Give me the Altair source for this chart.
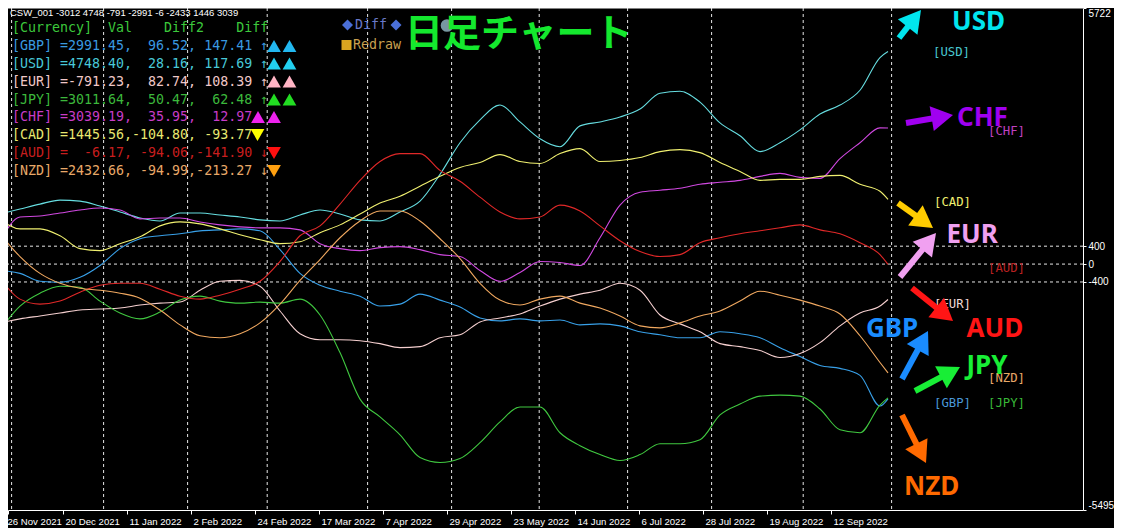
import math
import altair as alt
import pandas as pd

# ---------------- data ----------------
currencies = ["GBP", "USD", "EUR", "JPY", "CHF", "CAD", "AUD", "NZD"]
line_colors = ["#38A0E8", "#66DDE0", "#F5CFCF", "#40C840", "#D048E0", "#F0F070", "#E02828", "#F0A860"]

bars = [0, 5, 10, 15, 20, 25, 30, 35, 40, 45, 50, 55, 60, 65, 70, 75, 80, 85, 90, 95,
        100, 105, 110, 115, 120, 125, 130, 135, 140, 145, 150, 155, 160, 165, 170, 175,
        180, 185, 190, 195, 200, 205, 210, 215, 220, 222]

gbp = [-142, -208, -385, -407, -296, -31, 345, 566, 633, 677, 743, 765, 787, 743, 323, -208,
       -473, -606, -717, -938, -894, -672, -805, -960, -1203, -1270, -1225, -1270, -1248, -1358,
       -1336, -1380, -1513, -1579, -1646, -1646, -1513, -1557, -1646, -1867, -2066, -2265, -2331,
       -2486, -3172, -3012]
usd = [1119, 1230, 1340, 1429, 1407, 1296, 1164, 1031, 964, 1141, 1141, 1097, 1053, 987, 964,
       1097, 1208, 1119, 987, 964, 1164, 1407, 2004, 2712, 3221, 3553, 3176, 2800, 2623, 3088,
       3176, 3287, 3464, 3818, 3862, 3619, 3154, 2867, 2513, 2712, 2999, 3353, 3553, 3884, 4614, 4748]
eur = [-1314, -1225, -1159, -1093, -1026, -1004, -982, -916, -872, -849, -584, -385, -363, -495,
       -1048, -1557, -1690, -1690, -1712, -1778, -1867, -1845, -1646, -1579, -1292, -1203, -1115,
       -938, -783, -672, -584, -429, -584, -1137, -1336, -1513, -1778, -1845, -1933, -2088, -2000,
       -1756, -1380, -1093, -938, -791]
jpy = [-1469, -938, -650, -495, -518, -827, -1093, -1225, -1071, -805, -717, -827, -872, -849,
       -872, -783, -1137, -1978, -3017, -3415, -3814, -4322, -4433, -4344, -3990, -3526, -3194,
       -3194, -3769, -4057, -4256, -4389, -4256, -4013, -4013, -3924, -3371, -3128, -2951, -2929,
       -2951, -3238, -3703, -3769, -3150, -2991]
chf = [500, 1053, 1075, 1141, 1208, 1252, 1208, 1009, 1031, 1031, 942, 876, 832, 810, 810, 765,
       456, 345, 301, 367, 389, 323, 212, 168, -142, -385, -186, 58, 35, -31, 588, 1318, 1606,
       1650, 1694, 1783, 1827, 1871, 1960, 2026, 1938, 1916, 2358, 2712, 3044, 3039]
cad = [1009, 787, 787, 633, 345, 301, 456, 611, 854, 942, 898, 787, 655, 544, 456, 500, 699, 876,
       1119, 1363, 1517, 1739, 1960, 2159, 2270, 2446, 2292, 2247, 2469, 2579, 2292, 2314, 2380,
       2513, 2557, 2491, 2270, 2070, 1871, 1893, 1893, 1960, 1982, 1783, 1628, 1446]
aud = [-319, -783, -894, -827, -628, -473, -429, -429, -562, -717, -783, -695, -562, -385, 58, 633,
       854, 1340, 1871, 2292, 2469, 2469, 2093, 1849, 1495, 1164, 1009, 1053, 1318, 1186, 854, 522,
       279, 168, 212, 478, 588, 677, 743, 810, 876, 765, 677, 478, 212, -6]
nzd = [677, 168, -208, -429, -540, -584, -650, -761, -1026, -1358, -1602, -1646, -1557, -1314,
       -894, -363, 102, 588, 964, 1186, 1186, 964, 566, 124, -429, -805, -916, -783, -717, -872,
       -982, -1159, -1380, -1425, -1314, -1159, -1048, -827, -606, -695, -805, -938, -1115, -1602,
       -2199, -2433]
series = [gbp, usd, eur, jpy, chf, cad, aud, nzd]

month_separators = [2.9, 25.9, 46.9, 66.8, 91.9, 112.9, 134.8, 156.9, 177.9, 200.8, 222.9]
levels = [400, 0, -400]
y_ticks = [5722, 400, 0, -400, -5495]
date_ticks = [2, 15.75, 31.75, 47.75, 63.75, 79.75, 95.75, 111.75, 127.75, 143.75, 159.75,
              175.75, 191.75, 207.75]
date_labels = ["26 Nov 2021", "20 Dec 2021", "11 Jan 2022", "2 Feb 2022", "24 Feb 2022",
               "17 Mar 2022", "7 Apr 2022", "29 Apr 2022", "23 May 2022", "14 Jun 2022",
               "6 Jul 2022", "28 Jul 2022", "19 Aug 2022", "12 Sep 2022"]

header_text = "CSW_001 -3012 4748 -791 -2991 -6 -2433 1446 3039"
legend_lines = [
    "[Currency]  Val    Diff2    Diff",
    "[GBP] =2991.45,  96.52, 147.41 ↑",
    "[USD] =4748.40,  28.16, 117.69 ↑",
    "[EUR] =-791.23,  82.74, 108.39 ↑",
    "[JPY] =3011.64,  50.47,  62.48 ↑",
    "[CHF] =3039.19,  35.95,  12.97",
    "[CAD] =1445.56,-104.80, -93.77",
    "[AUD] =  -6.17, -94.06,-141.90 ↓",
    "[NZD] =2432.66, -94.99,-213.27 ↓",
]
title_text = "日足チャート"

# ---------------- layout ----------------
W, H = 1075, 502
M = 8  # page margin offset (page coords -> plot coords)

xs = alt.Scale(domain=[2, 270.75], nice=False, zero=False)
ys = alt.Scale(domain=[-5495, 5722], nice=False, zero=False)

label_expr = "[" + ",".join("'%s'" % s for s in date_labels) + "][indexof([" + \
    ",".join(str(t) for t in date_ticks) + "], datum.value)]"

xaxis = alt.Axis(values=date_ticks, labelExpr=label_expr, labelAlign="left",
                 labelOffset={"condition": {"test": "datum.value == 2", "value": -1}, "value": 2},
                 labelColor="white", labelFont="Liberation Sans", labelFontSize=9.6,
                 labelPadding=2, labelOverlap=False, labelFlush=False,
                 tickColor="white", tickSize=4, domainColor="white", grid=False, title=None)
yaxis = alt.Axis(orient="right", values=y_ticks, labelExpr="'' + datum.value",
                 labelColor="white", labelFont="Liberation Sans", labelFontSize=10,
                 labelPadding=2, labelOverlap=False, labelFlush=True,
                 tickColor="white", tickSize=3, domainColor="white", grid=False, title=None)


def X(field):
    return alt.X(field + ":Q", scale=xs, axis=xaxis)


def Y(field):
    return alt.Y(field + ":Q", scale=ys, axis=yaxis)


dash = [3, 3]
layers = []
layers.append(alt.Chart(pd.DataFrame({"bar": month_separators}))
              .mark_rule(color="white", strokeDash=dash, strokeWidth=1, opacity=0.9)
              .encode(x=X("bar")))
layers.append(alt.Chart(pd.DataFrame({"v": levels}))
              .mark_rule(color="white", strokeDash=dash, strokeWidth=1, opacity=0.9)
              .encode(y=Y("v")))
layers.append(alt.Chart(pd.DataFrame({"v": y_ticks[:1]}))
              .mark_rule(color="white", strokeWidth=1)
              .encode(y=Y("v")))

rows = []
for c, vals in zip(currencies, series):
    for b, v in zip(bars, vals):
        rows.append({"bar": b, "cur": c, "v": v})
lines_df = pd.DataFrame(rows)
layers.append(alt.Chart(lines_df).mark_line(strokeWidth=1.1, clip=True, interpolate="monotone")
              .encode(x=X("bar"), y=Y("v"),
                      color=alt.Color("cur:N", scale=alt.Scale(domain=currencies, range=line_colors),
                                      legend=None),
                      order=alt.Order("bar:Q")))

dummy = pd.DataFrame({"a": [0]})


def text(t, px, py, color, size, font="DejaVu Sans Mono", weight="normal", align="left"):
    return (alt.Chart(dummy)
            .mark_text(text=t.replace(" ", "\u00a0"), color=color, fontSize=size, font=font,
                       fontWeight=weight, align=align, baseline="middle")
            .encode(x=alt.value(px - M), y=alt.value(py - M)))


def sym(shape, px, py, color, size, angle=0):
    return (alt.Chart(dummy)
            .mark_point(shape=shape, filled=True, color=color, size=size, opacity=1,
                        angle=angle, strokeWidth=0)
            .encode(x=alt.value(px - M), y=alt.value(py - M)))


def arrow(tail, tip, color, head=620, width=6):
    sx, sy = tail
    tx, ty = tip
    dx, dy = tx - sx, ty - sy
    ln = math.hypot(dx, dy)
    ux, uy = dx / ln, dy / ln
    hoff = 0.433 * math.sqrt(head)
    cx, cy = tx - ux * hoff, ty - uy * hoff
    ang = (math.degrees(math.atan2(dx, -dy)) + 360) % 360
    shaft = (alt.Chart(dummy)
             .mark_rule(color=color, strokeWidth=width, strokeCap="butt")
             .encode(x=alt.value(sx - M), y=alt.value(sy - M),
                     x2=alt.value(cx - M), y2=alt.value(cy - M)))
    return [shaft, sym("triangle-up", cx, cy, color, head, ang)]


# header + legend table
layers.append(text(header_text, 10, 13, "white", 9.5, font="Liberation Sans"))
legend_colors = ["#3CC83C", "#3A9AE0", "#48C8D8", "#F0C8C8", "#3CB83C", "#C83CC8",
                 "#E8E870", "#C81E1E", "#E8A868"]
legend_y = [28, 46, 63.5, 81.5, 99.5, 117, 135, 153, 171]
for t, c, yy in zip(legend_lines, legend_colors, legend_y):
    layers.append(text(t, 12, yy, c, 13.3))

tri = [
    (274, 46, "triangle-up", "#22B8F0"), (289.5, 46, "triangle-up", "#22B8F0"),
    (274, 63.5, "triangle-up", "#22D0F0"), (289.5, 63.5, "triangle-up", "#22D0F0"),
    (274, 81.5, "triangle-up", "#FFB4C4"), (289.5, 81.5, "triangle-up", "#FFB4C4"),
    (274, 99.5, "triangle-up", "#22DD22"), (289.5, 99.5, "triangle-up", "#22DD22"),
    (258, 117, "triangle-up", "#EE22EE"), (274, 117, "triangle-up", "#EE22EE"),
    (257.5, 135, "triangle-down", "#FFFF00"),
    (274, 153, "triangle-down", "#FF1010"),
    (274, 171, "triangle-down", "#FFA010"),
]
for px, py, shp, c in tri:
    layers.append(sym(shp, px, py, c, 190))

# buttons
layers.append(sym("diamond", 347.5, 25, "#4A6FD8", 121))
layers.append(text("Diff", 355, 25, "#6878C8", 13.3))
layers.append(sym("diamond", 396, 25, "#4A6FD8", 121))
layers.append(sym("circle", 447, 25.5, "#7897A0", 160))
layers.append(sym("square", 346.5, 45, "#DAA520", 100))
layers.append(text("Redraw", 353, 45, "#C8A050", 13.3))
layers.append(sym("square", 414.5, 43.5, "#DAA520", 36))

# title
layers.append(text(title_text, 405, 35, "#14E82E", 38, font="Noto Sans CJK JP", weight="bold"))

# small bracket labels
brackets = [("[USD]", 933, 52, "#48C8D0"), ("[CHF]", 988, 130.5, "#C040C0"),
            ("[CAD]", 934, 202, "#F0F070"), ("[AUD]", 988, 268, "#B82020"),
            ("[EUR]", 934, 304, "#F0D8D8"), ("[NZD]", 988, 378, "#E8A868"),
            ("[GBP]", 934, 403, "#4A98D8"), ("[JPY]", 988, 403, "#38B838")]
for t, px, py, c in brackets:
    layers.append(text(t, px, py, c, 12.3))

# arrows
arrows = [((899, 38), (921, 10), "#00E5EE"),
          ((906, 123), (953, 115), "#A000F0"),
          ((898, 203), (933, 228), "#FFCC00"),
          ((900, 277), (936, 233), "#F0A0F0"),
          ((912, 288), (953, 321), "#FF1515"),
          ((902, 379), (928, 331), "#1A8CFF"),
          ((915, 391), (960, 367), "#18EE36"),
          ((902, 415), (926, 463), "#FF6A00")]
for tail, tip, c in arrows:
    layers.extend(arrow(tail, tip, c))

# big currency labels
bigs = [("USD", 952, 22, "#00E5EE"), ("CHF", 957, 117.5, "#A000F0"),
        ("EUR", 946.5, 234.5, "#F0A0F0"), ("AUD", 966.5, 328.5, "#FF1515"),
        ("GBP", 866, 328.5, "#1A8CFF"), ("JPY", 966.5, 365.5, "#18EE36"),
        ("NZD", 904, 486.5, "#FF6A00")]
for t, px, py, c in bigs:
    layers.append(text(t, px, py, c, 26, font="Noto Sans", weight="bold"))

chart = (alt.layer(*layers)
         .properties(width=W, height=H,
                     padding={"left": 0, "top": 0, "right": 31, "bottom": 18},
                     autosize=alt.AutoSizeParams(type="none"))
         .configure(background="black")
         .configure_view(stroke="transparent", fill="black"))

chart.save("out.html", embed_options={"renderer": "svg", "actions": False})
